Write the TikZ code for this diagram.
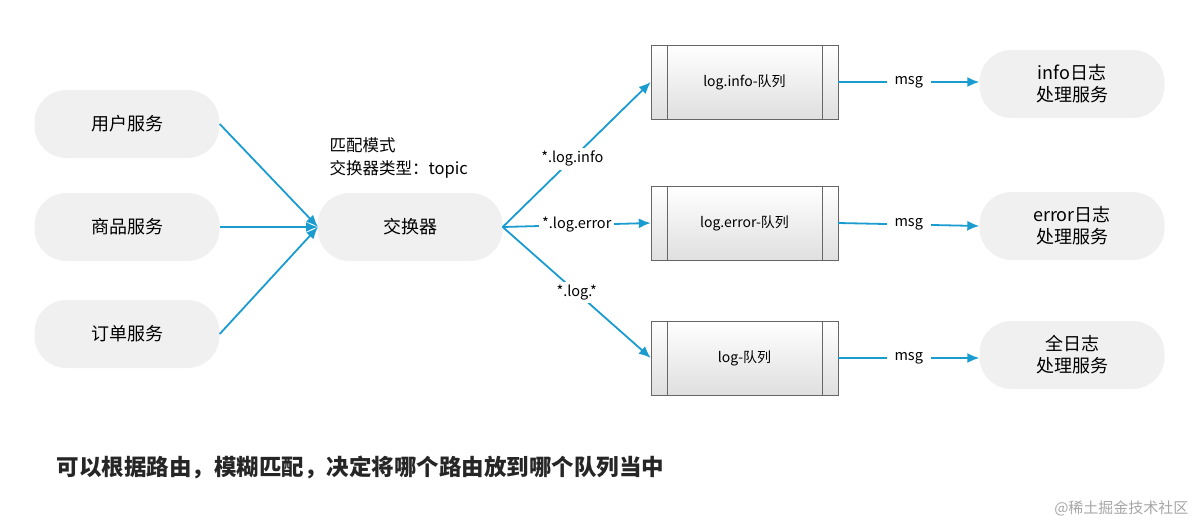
\documentclass[tikz,border=0pt]{standalone}
\usepackage{fontspec}
\setmainfont{Noto Sans CJK SC}
\usetikzlibrary{arrows.meta}
\definecolor{pillgray}{HTML}{F0F0F0}
\definecolor{arr}{HTML}{1A9CD0}
\tikzset{
 pill/.style={draw=none,fill=pillgray,rounded corners=32pt,minimum width=185pt,minimum height=68pt,font=\fontsize{18}{22}\selectfont,align=center},
 queue/.style={draw=gray!80!black,top color=white,bottom color=gray!25,minimum width=187pt,minimum height=74pt,font=\fontsize{14}{17}\selectfont},
 conn/.style={draw=arr,line width=1.8pt,-{Latex[length=12pt,width=10pt]}},
 lbl/.style={font=\fontsize{14.5}{17}\selectfont,fill=white,inner sep=3pt}
}
\begin{document}
\begin{tikzpicture}[x=1pt,y=-1pt]
\useasboundingbox (0,0) rectangle (1196,525);
\node[pill] (u) at (127,124) {用户服务};
\node[pill] (g) at (127,227) {商品服务};
\node[pill] (o) at (127,334) {订单服务};
\node[pill] (x) at (410,227) {交换器};
\node[anchor=west,align=left,font=\fontsize{16.5}{23}\selectfont] (m) at (326,158) {匹配模式\\交换器类型：topic};
\foreach \n/\y/\t in {qi/82/log.info-队列, qe/223/log.error-队列, ql/358/log-队列}{
 \node[queue] (\n) at (744.5,\y) {\t};
 \draw[gray!80!black] ([xshift=16pt]\n.north west) -- ([xshift=16pt]\n.south west);
 \draw[gray!80!black] ([xshift=-16pt]\n.north east) -- ([xshift=-16pt]\n.south east);
}
\node[pill] (ri) at (1072,84) {info日志\\处理服务};
\node[pill] (re) at (1072,226) {error日志\\处理服务};
\node[pill] (ra) at (1072,355) {全日志\\处理服务};
\coordinate (xin) at (318,227);
\draw[conn] (u.east) -- (xin);
\draw[conn] (g.east) -- (xin);
\draw[conn] (o.east) -- (xin);
\draw[conn] (x.east) -- node[lbl,pos=0.47] {*.log.info} (qi.west);
\draw[conn] (x.east) -- node[lbl,pos=0.5] {*.log.error} (qe.west);
\draw[conn] (x.east) -- node[lbl,pos=0.5] {*.log.*} (ql.west);
\draw[conn] (qi.east) -- node[lbl,inner xsep=8pt] {msg} (ri.west |- qi.east);
\draw[conn] (qe.east) -- node[lbl,inner xsep=8pt] {msg} (re.west);
\draw[conn] (ql.east) -- node[lbl,inner xsep=8pt] {msg} (ra.west |- ql.east);
\node[anchor=west,font=\bfseries\fontsize{22.5}{26}\selectfont,text=black!85] (b) at (53,467) {可以根据路由，模糊匹配，决定将哪个路由放到哪个队列当中};
\node[anchor=east,font=\fontsize{15}{18}\selectfont,text=gray!70] (w) at (1192,508) {@稀土掘金技术社区};
\end{tikzpicture}
\end{document}
